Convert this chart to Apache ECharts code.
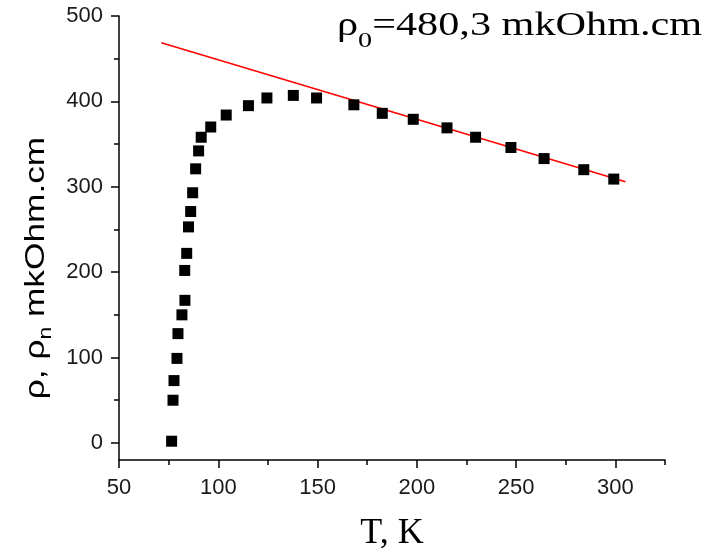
<!DOCTYPE html>
<html>
<head>
<meta charset="utf-8">
<script src="https://cdn.jsdelivr.net/npm/echarts@6/dist/echarts.min.js"></script>
<style>
html,body{margin:0;padding:0;background:#fff;}
#chart{width:702px;height:551px;}
</style>
</head>
<body>
<div id="chart"></div>
<script>
// Temperature T (K) of measured points
const temperatures = [76.5, 77.2, 77.7, 79.2, 79.7, 81.7, 83.2, 83.1, 84.1, 85.0,
  86.1, 87.1, 88.6, 90.1, 91.4, 96.2, 104.0, 115.2, 124.5, 137.8,
  149.5, 168.3, 182.6, 198.2, 215.2, 229.6, 247.4, 264.1, 284.1, 299.2];
// Resistivity rho (mkOhm.cm)
const resistivity = [2, 50, 73, 99, 128, 150, 167, 202, 222, 253,
  271, 293, 321, 342, 358, 370, 384, 395, 404, 407,
  404, 396, 386, 379, 369, 358, 346, 333, 320, 309];
// Linear fit line endpoints
const fitT = [71.3, 305.1];
const fitRho = [468.6, 305.8];
// Tick values
const xMajorTicks = [50, 100, 150, 200, 250, 300];
const xMinorTicks = [75, 125, 175, 225, 275, 325];
const yMajorTicks = [0, 100, 200, 300, 400, 500];
const yMinorTicks = [50, 150, 250, 350, 450];

const scatterData = temperatures.map((t, i) => [t, resistivity[i]]);
const fitData = fitT.map((t, i) => [t, fitRho[i]]);

const chart = echarts.init(document.getElementById('chart'), null, {renderer: 'canvas'});
const labelFont = 'Liberation Sans, Arial, sans-serif';
const serifFont = 'Liberation Serif, Times New Roman, serif';
const axisLineStyle = {color: '#000', width: 1.5};

const option = {
  animation: false,
  backgroundColor: '#fff',
  grid: {left: 119, right: 37, top: 16, bottom: 91, containLabel: false, outerBoundsMode: 'none'},
  xAxis: [
    {
      type: 'value', min: 50, max: 325, position: 'bottom',
      axisLine: {show: true, onZero: false, lineStyle: axisLineStyle},
      axisTick: {show: true, inside: false, length: 8, customValues: xMajorTicks, lineStyle: axisLineStyle},
      axisLabel: {show: true, customValues: xMajorTicks, fontSize: 22, fontFamily: labelFont, color: '#1a1a1a', margin: 17},
      splitLine: {show: false},
      name: 'T, K', nameLocation: 'middle', nameGap: 56,
      nameTextStyle: {fontFamily: serifFont, fontSize: 36, color: '#000'}
    },
    {
      type: 'value', min: 50, max: 325, position: 'bottom',
      axisLine: {show: false, onZero: false},
      axisTick: {show: true, inside: false, length: 5, customValues: xMinorTicks, lineStyle: axisLineStyle},
      axisLabel: {show: false},
      splitLine: {show: false}
    }
  ],
  yAxis: [
    {
      type: 'value', min: -20, max: 500, position: 'left',
      axisLine: {show: true, onZero: false, lineStyle: axisLineStyle},
      axisTick: {show: true, inside: false, length: 8, customValues: yMajorTicks, lineStyle: axisLineStyle},
      axisLabel: {show: true, customValues: yMajorTicks, fontSize: 22, fontFamily: labelFont, color: '#1a1a1a', margin: 16},
      splitLine: {show: false}
    },
    {
      type: 'value', min: -20, max: 500, position: 'left',
      axisLine: {show: false, onZero: false},
      axisTick: {show: true, inside: false, length: 5, customValues: yMinorTicks, lineStyle: axisLineStyle},
      axisLabel: {show: false},
      splitLine: {show: false}
    }
  ],
  series: [
    {
      type: 'line', xAxisIndex: 0, yAxisIndex: 0, data: fitData,
      showSymbol: false, symbol: 'none',
      lineStyle: {color: '#ff0000', width: 1.5}, z: 2
    },
    {
      type: 'scatter', xAxisIndex: 0, yAxisIndex: 0, data: scatterData,
      symbol: 'rect', symbolSize: 11,
      itemStyle: {color: '#000', opacity: 1}, z: 3
    }
  ],
  graphic: [
    {
      type: 'text', x: 36, y: 268, rotation: Math.PI / 2, scaleX: 1.26,
      style: {
        text: '{a|ρ, ρ}{s|n}{a| mkOhm.cm}',
        align: 'center', verticalAlign: 'middle',
        rich: {
          a: {fontSize: 28, fontFamily: labelFont, fill: '#000'},
          s: {fontSize: 18, fontFamily: labelFont, fill: '#000', padding: [20, 0, 0, 0]}
        }
      }
    },
    {
      type: 'text', x: 337, y: 26, scaleX: 1.28, originX: 0,
      style: {
        text: '{a|ρ}{s|0}{a|=480,3 mkOhm.cm}',
        align: 'left', verticalAlign: 'middle',
        rich: {
          a: {fontSize: 33, fontFamily: serifFont, fill: '#000'},
          s: {fontSize: 22, fontFamily: serifFont, fill: '#000', padding: [30, 0, 0, 0]}
        }
      }
    }
  ]
};
chart.setOption(option);
</script>
</body>
</html>
